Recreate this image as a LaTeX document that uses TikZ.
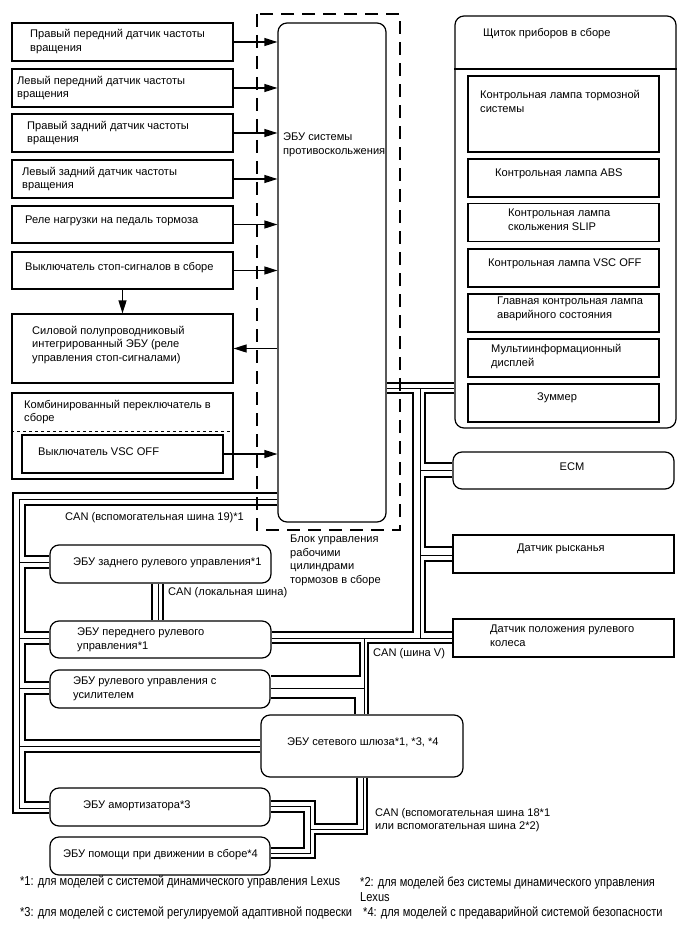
\documentclass[tikz,border=0pt]{standalone}
\usepackage{fontspec}
\setmainfont{Liberation Sans}
\newfontfamily\narrowfont[FakeStretch=0.85]{Liberation Sans}
\usetikzlibrary{arrows.meta}
\pgfdeclarelayer{background}
\pgfsetlayers{background,main}
\begin{document}
\begin{tikzpicture}[x=1pt,y=-1pt,
  box/.style={draw, fill=white, line width=1.2pt, minimum width=221pt, minimum height=38pt, inner sep=0pt},
  rbox/.style={box, rounded corners=9pt},
  txt/.style={anchor=west, align=left, inner sep=0pt, font=\fontsize{11.1}{13.6}\selectfont},
  ntxt/.style={anchor=west, align=left, inner sep=0pt, font=\narrowfont\fontsize{13}{15}\selectfont},
  sig/.style={line width=1.2pt, -{Triangle[length=13pt,width=8pt]}},
  cabthick/.style={line width=2.4pt},
  cabthin/.style={line width=0.9pt}]
\useasboundingbox (0,0) rectangle (688,949);

% ---------- left input boxes
\node[box] (s1) at (122.5,42) {};
\node[box] (s2) at (122.5,88) {};
\node[box] (s3) at (122.5,133) {};
\node[box] (s4) at (122.5,179) {};
\node[box, minimum height=37pt] (s5) at (122.5,224.5) {};
\node[box, minimum height=37pt] (s6) at (122.5,270.5) {};
\node[box, minimum height=69pt] (s7) at (122.5,348.5) {};
\node[box, minimum height=86pt] (s8) at (122.5,436) {};
\draw[line width=1pt, dashed] (s8.west |- 0,431) -- (s8.east |- 0,431);
\node[box, minimum width=201pt] (vsc) at (122.5,454) {};

\node[txt] at (30,41.5) {Правый передний датчик частоты\\вращения};
\node[txt] at (17,88) {Левый передний датчик частоты\\вращения};
\node[txt] at (27,133) {Правый задний датчик частоты\\вращения};
\node[txt] at (22,179) {Левый задний датчик частоты\\вращения};
\node[txt] at (25,221) {Реле нагрузки на педаль тормоза};
\node[txt] at (25,268) {Выключатель стоп-сигналов в сборе};
\node[txt] at (32,345) {Силовой полупроводниковый\\интегрированный ЭБУ (реле\\управления стоп-сигналами)};
\node[txt] at (24,412) {Комбинированный переключатель в\\сборе};
\node[txt] at (38,452) {Выключатель VSC OFF};

% ---------- brake ECU
\draw[line width=1.3pt, dash pattern=on 13pt off 8pt] (257,14) rectangle (400,530);
\node[rbox, minimum width=108pt, minimum height=499pt] (brake) at (332,272.5) {};
\node[txt] at (283,144.5) {ЭБУ системы\\противоскольжения};
\node[txt] at (290,560.5) {Блок управления\\рабочими\\цилиндрами\\тормозов в сборе};

\draw[sig] (s1.east) -- (s1.east -| brake.west);
\draw[sig] (s2.east) -- (s2.east -| brake.west);
\draw[sig] (s3.east) -- (s3.east -| brake.west);
\draw[sig] (s4.east) -- (s4.east -| brake.west);
\draw[sig] (s5.east) -- (s5.east -| brake.west);
\draw[sig] (s6.east) -- (s6.east -| brake.west);
\draw[sig] (s6.south) -- (s7.north);
\draw[sig] (brake.west |- s7.east) -- (s7.east);
\draw[sig] (vsc.east) -- (vsc.east -| brake.west);

% ---------- instrument cluster
\node[rbox, minimum height=412pt] (cl) at (565.5,222) {};
\draw[line width=1.2pt] (cl.west |- 0,69) -- (cl.east |- 0,69);
\node[txt] at (483,34) {Щиток приборов в сборе};
\node[box, minimum width=191pt, minimum height=76pt] (c1) at (563.5,114) {};
\node[box, minimum width=191pt] (c2) at (563.5,178) {};
\node[box, minimum width=191pt] (c3) at (563.5,222.5) {};
\node[box, minimum width=191pt] (c4) at (563.5,268) {};
\node[box, minimum width=191pt] (c5) at (563.5,313) {};
\node[box, minimum width=191pt] (c6) at (563.5,358) {};
\node[box, minimum width=191pt] (c7) at (563.5,403) {};
\node[txt] at (480,101.5) {Контрольная лампа тормозной\\системы};
\node[txt] at (495,174) {Контрольная лампа ABS};
\node[txt] at (508,219.5) {Контрольная лампа\\скольжения SLIP};
\node[txt] at (488,264) {Контрольная лампа VSC OFF};
\node[txt] at (497,309) {Главная контрольная лампа\\аварийного состояния};
\node[txt] at (491,356.5) {Мультиинформационный\\дисплей};
\node[txt] at (537,398) {Зуммер};

% ---------- right nodes
\node[rbox, minimum height=37pt] (ecm) at (563.5,470.5) {};
\node[txt, anchor=center] at (572,467) {ECM};
\node[box] (yaw) at (563.5,554) {};
\node[txt] at (517,549) {Датчик рысканья};
\node[box] (ssens) at (563.5,638) {};
\node[txt] at (490,635.5) {Датчик положения рулевого\\колеса};

% ---------- lower ECUs
\node[rbox] (rsteer) at (160.5,564) {};
\node[txt] at (73,563) {ЭБУ заднего рулевого управления*1};
\node[rbox, minimum height=37pt] (fsteer) at (160.5,639.5) {};
\node[txt] at (77,640) {ЭБУ переднего рулевого\\управления*1};
\node[rbox, minimum width=220pt] (psteer) at (160,689) {};
\node[txt] at (73,689) {ЭБУ рулевого управления с\\усилителем};
\node[rbox, minimum width=202pt, minimum height=62pt] (gw) at (362,746) {};
\node[txt] at (287,742) {ЭБУ сетевого шлюза*1, *3, *4};
\node[rbox, minimum width=220pt] (shock) at (160,807) {};
\node[txt] at (83,806) {ЭБУ амортизатора*3};
\node[rbox, minimum width=220pt] (assist) at (160,856) {};
\node[txt] at (63,855) {ЭБУ помощи при движении в сборе*4};

% ---------- bus labels
\node[txt] at (65,518) {CAN (вспомогательная шина 19)*1};
\node[txt] at (168,593) {CAN (локальная шина)};
\node[txt] at (373,654) {CAN (шина V)};
\node[txt] at (375,820) {CAN (вспомогательная шина 18*1\\или вспомогательная шина 2*2)};

% ---------- footnotes
\node[ntxt] at (20,882) {*1: для моделей с системой динамического управления Lexus};
\node[ntxt] at (360,889) {*2: для моделей без системы динамического управления\\Lexus};
\node[ntxt] at (20,913) {*3: для моделей с системой регулируемой адаптивной подвески};
\node[ntxt] at (363,913) {*4: для моделей с предаварийной системой безопасности};

% ---------- CAN buses
\begin{pgfonlayer}{background}
% CAN V (right)
\draw[cabthick] (brake.east |- 0,383) -- (cl.west |- 0,383);
\draw[cabthin] (brake.east |- 0,388) -- (cl.west |- 0,388);
\draw[cabthick] (brake.east |- 0,393) -- (413,393) -- (413,632) -- (fsteer.east |- 0,632);
\draw[cabthin] (420,388) -- (420,638);
\draw[cabthin] (fsteer.east |- 0,638) -- (ssens.west |- 0,638);
\draw[cabthin] (420,470) -- (ecm.west |- 0,470);
\draw[cabthin] (420,555) -- (yaw.west |- 0,555);
\draw[cabthick] (cl.west |- 0,393) -- (425,393) -- (425,463) -- (ecm.west |- 0,463);
\draw[cabthick] (ecm.west |- 0,477) -- (425,477) -- (425,547) -- (yaw.west |- 0,547);
\draw[cabthick] (yaw.west |- 0,561) -- (425,561) -- (425,632) -- (ssens.west |- 0,632);
\draw[cabthick] (ssens.west |- 0,643) -- (368,643) -- (368,0 |- gw.north);
\draw[cabthick] (fsteer.east |- 0,643) -- (360,643) -- (360,676) -- (psteer.east |- 0,676);
\draw[cabthin] (364,638) -- (364,0 |- gw.north);
\draw[cabthin] (364,688) -- (psteer.east |- 0,688);
\draw[cabthick] (psteer.east |- 0,698) -- (355,698) -- (355,0 |- gw.north);
% left buses
\draw[cabthick] (brake.west |- 0,493) -- (13,493) -- (13,813) -- (shock.west |- 0,813);
\draw[cabthin] (brake.west |- 0,499) -- (19,499) -- (19,808) -- (shock.west |- 0,808);
\draw[cabthin] (19,562) -- (rsteer.west |- 0,562);
\draw[cabthin] (19,638) -- (fsteer.west |- 0,638);
\draw[cabthin] (19,688) -- (psteer.west |- 0,688);
\draw[cabthin] (19,746) -- (gw.west |- 0,746);
\draw[cabthick] (brake.west |- 0,505) -- (25,505) -- (25,556) -- (rsteer.west |- 0,556);
\draw[cabthick] (rsteer.west |- 0,568) -- (25,568) -- (25,632) -- (fsteer.west |- 0,632);
\draw[cabthick] (fsteer.west |- 0,644) -- (25,644) -- (25,682) -- (psteer.west |- 0,682);
\draw[cabthick] (psteer.west |- 0,694) -- (25,694) -- (25,740) -- (gw.west |- 0,740);
\draw[cabthick] (gw.west |- 0,752) -- (25,752) -- (25,802) -- (shock.west |- 0,802);
% local bus
\draw[cabthick] (152,0 |- rsteer.south) -- (152,0 |- fsteer.north);
\draw[cabthin] (158,0 |- rsteer.south) -- (158,0 |- fsteer.north);
\draw[cabthick] (163,0 |- rsteer.south) -- (163,0 |- fsteer.north);
% bottom bus
\draw[cabthick] (357,0 |- gw.south) -- (357,824) -- (315,824) -- (315,801) -- (shock.east |- 0,801);
\draw[cabthin] (363,0 |- gw.south) -- (363,829) -- (310,829);
\draw[cabthin] (shock.east |- 0,806) -- (310,806) -- (310,853) -- (assist.east |- 0,853);
\draw[cabthick] (367,0 |- gw.south) -- (367,834) -- (315,834) -- (315,858) -- (assist.east |- 0,858);
\draw[cabthick] (shock.east |- 0,812) -- (304,812) -- (304,848) -- (assist.east |- 0,848);
\end{pgfonlayer}
\end{tikzpicture}
\end{document}
